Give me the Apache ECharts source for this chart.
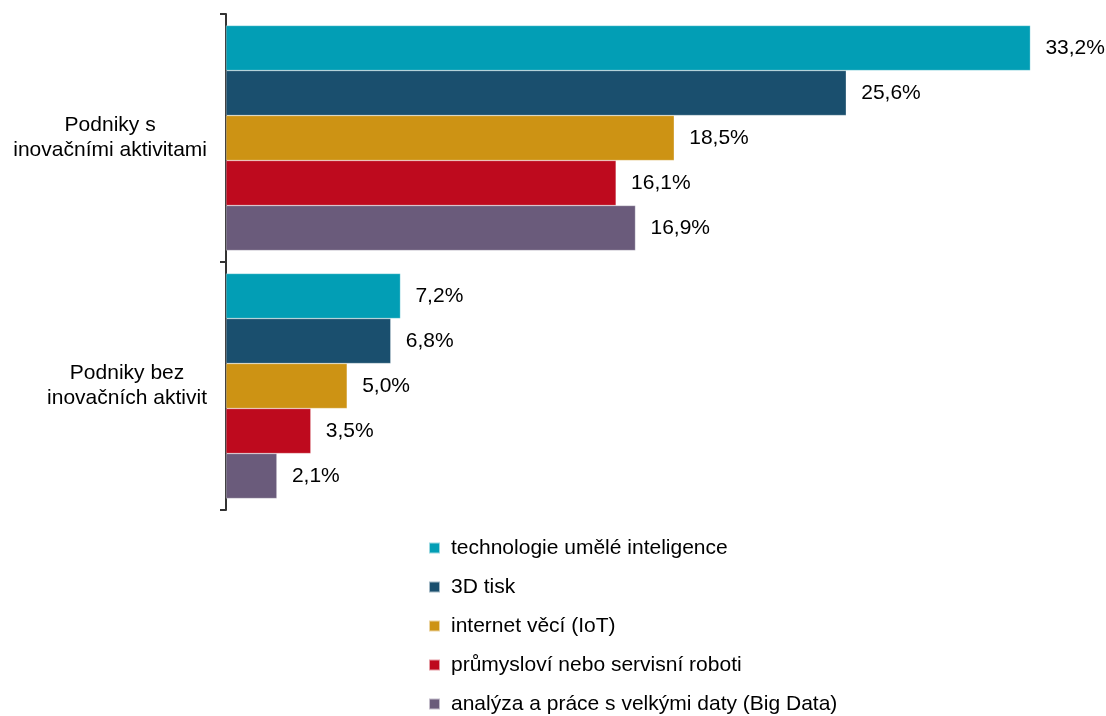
<!DOCTYPE html>
<html>
<head>
<meta charset="utf-8">
<script src="https://cdn.jsdelivr.net/npm/echarts@6/dist/echarts.min.js"></script>
<style>html,body{margin:0;padding:0;background:#fff;}#c{width:1106px;height:716px;}</style>
</head>
<body>
<div id="c"></div>
<script>
const categories = ['Podniky s\ninovačními aktivitami', 'Podniky bez\ninovačních aktivit'];
const seriesNames = ['technologie umělé inteligence', '3D tisk', 'internet věcí (IoT)', 'průmysloví nebo servisní roboti', 'analýza a práce s velkými daty (Big Data)'];
const aiValues = [33.2, 7.2];
const printValues = [25.6, 6.8];
const iotValues = [18.5, 5.0];
const robotValues = [16.1, 3.5];
const bigDataValues = [16.9, 2.1];
const colors = ['#029EB5', '#1A4F6E', '#CD9314', '#BE0A1E', '#6A5B7B'];

const allValues = [aiValues, printValues, iotValues, robotValues, bigDataValues];
const FONT = 'Liberation Sans, Arial, sans-serif';
const FS = 21;

const chart = echarts.init(document.getElementById('c'), null, {renderer: 'canvas'});
chart.setOption({
  animation: false,
  backgroundColor: '#fff',
  grid: {left: 226, right: 32, top: 14, height: 496},
  legend: {
    orient: 'vertical',
    left: 428,
    top: 536,
    height: 200,
    padding: 0,
    itemWidth: 11,
    itemHeight: 11,
    itemGap: 15,
    icon: 'rect',
    data: seriesNames,
    textStyle: {fontFamily: FONT, fontSize: FS, color: '#000', lineHeight: 24, padding: [0, 0, 0, 6]}
  },
  xAxis: {
    type: 'value', min: 0, max: 35, show: false
  },
  yAxis: {
    type: 'category',
    data: categories,
    inverse: true,
    offset: 1,
    axisLine: {show: true, lineStyle: {color: '#333', width: 2}},
    axisTick: {show: true, length: 6, lineStyle: {color: '#333', width: 2}},
    axisLabel: {
      margin: 18,
      fontFamily: FONT,
      fontSize: FS,
      color: '#000',
      formatter: v => v.split('\n').map(s => '{a|' + s + '}').join('\n'),
      rich: {a: {align: 'center', fontFamily: FONT, fontSize: FS, color: '#000', lineHeight: 25}}
    },
    splitLine: {show: false}
  },
  series: seriesNames.map((n, i) => ({
    name: n,
    type: 'bar',
    data: allValues[i],
    barWidth: 45,
    barGap: '0%',
    itemStyle: {color: colors[i], borderColor: 'rgba(255,255,255,0.6)', borderWidth: 0.5},
    label: {
      show: true,
      position: 'right',
      distance: 15,
      fontFamily: FONT,
      fontSize: FS,
      color: '#000',
      formatter: p => p.value.toFixed(1).replace('.', ',') + '%'
    }
  }))
});
</script>
</body>
</html>
